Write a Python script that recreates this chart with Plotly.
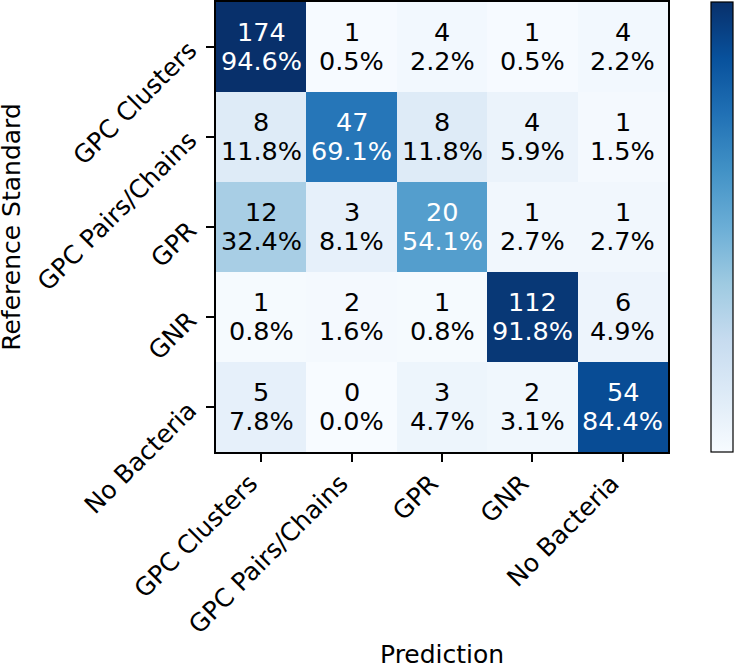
import plotly.graph_objects as go

classes = ["GPC Clusters", "GPC Pairs/Chains", "GPR", "GNR", "No Bacteria"]

# rows = reference standard, columns = prediction
counts = [
    [174, 1, 4, 1, 4],
    [8, 47, 8, 4, 1],
    [12, 3, 20, 1, 1],
    [1, 2, 1, 112, 6],
    [5, 0, 3, 2, 54],
]

# row-normalised fractions
frac = [[c / sum(row) for c in row] for row in counts]
zmax = max(max(r) for r in frac)

blues = [
    [0.0, "#f7fbff"], [0.125, "#deebf7"], [0.25, "#c6dbef"],
    [0.375, "#9ecae1"], [0.5, "#6baed6"], [0.625, "#4292c6"],
    [0.75, "#2171b5"], [0.875, "#08519c"], [1.0, "#08306b"],
]

font = "DejaVu Sans"

fig = go.Figure(go.Heatmap(
    z=frac, x=classes, y=classes,
    colorscale=blues, zmin=0, zmax=zmax,
    hoverinfo="skip",
    colorbar=dict(
        thickness=22, thicknessmode="pixels",
        len=1, lenmode="fraction", y=0.5, yanchor="middle",
        x=1.095, xanchor="left", xpad=0, ypad=0,
        outlinewidth=1.2, outlinecolor="black",
        showticklabels=False, ticks="",
    ),
))

for i, row in enumerate(counts):
    for j, c in enumerate(row):
        f = frac[i][j]
        col = "white" if f > zmax / 2 else "black"
        for txt, shift in ((str(c), 15), (f"{f * 100:.1f}%", -14)):
            fig.add_annotation(
                x=classes[j], y=classes[i], text=txt, yshift=shift,
                showarrow=False,
                font=dict(family=font, size=25.5, color=col),
            )

# axis titles
fig.add_annotation(x=0.5, y=-0.451, xref="paper", yref="paper",
                   xanchor="center", yanchor="middle",
                   text="Prediction", showarrow=False,
                   font=dict(family=font, size=25, color="black"))
fig.add_annotation(x=-0.454, y=0.5, xref="paper", yref="paper",
                   xanchor="center", yanchor="middle",
                   text="Reference Standard", showarrow=False, textangle=-90,
                   font=dict(family=font, size=25, color="black"))

axis_style = dict(
    showline=True, linecolor="black", linewidth=1.5, mirror=True,
    ticks="outside", ticklen=8, tickwidth=1.5, tickcolor="black",
    tickangle=-45, tickfont=dict(family=font, size=25, color="black"),
    showgrid=False, zeroline=False,
)

fig.update_xaxes(**axis_style, ticklabelshift=-11, ticklabelstandoff=-3)
fig.update_yaxes(**axis_style, autorange="reversed", ticklabelstandoff=12)

fig.update_layout(
    width=735, height=665,
    margin=dict(l=216, r=67, t=2, b=213, autoexpand=False),
    paper_bgcolor="white", plot_bgcolor="white",
    font=dict(family=font),
)

fig.write_html("out.html", config={"displayModeBar": False},
               post_script="document.body.style.margin='0';")
